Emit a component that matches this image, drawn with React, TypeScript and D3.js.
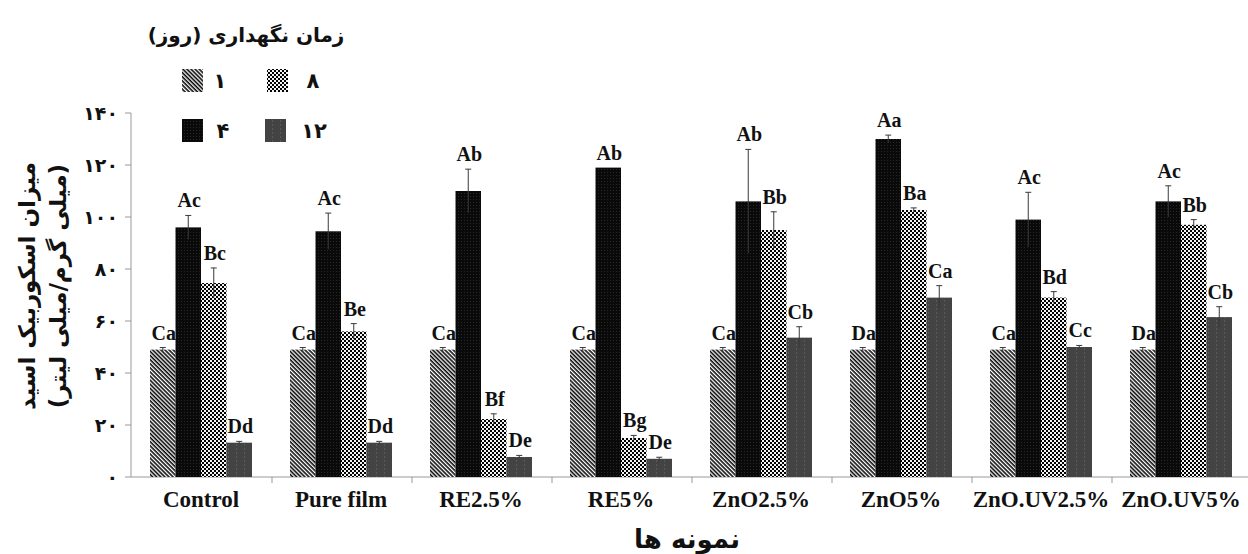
import * as React from 'react';
import * as d3 from 'd3';

const CATEGORIES = ['Control', 'Pure film', 'RE2.5%', 'RE5%', 'ZnO2.5%', 'ZnO5%', 'ZnO.UV2.5%', 'ZnO.UV5%'];
const SERIES = ['1', '4', '8', '12'];
const SERIES_LABELS = ['۱', '۴', '۸', '۱۲'];

const DAY1 = [49, 49, 49, 49, 49, 49, 49, 49];
const DAY4 = [96, 94.5, 110, 119, 106, 130, 99, 106];
const DAY8 = [74.6, 56, 22.3, 15, 95, 102.7, 69, 97];
const DAY12 = [13.2, 13.2, 7.7, 7, 53.6, 69, 50, 61.5];

const ERR1 = [0.8, 0.8, 0.8, 0.8, 0.8, 0.8, 0.8, 0.8];
const ERR4 = [4.6, 7, 8.4, 0, 20, 1.5, 10.5, 6];
const ERR8 = [5.8, 3, 2, 1, 7, 0.8, 2.3, 2];
const ERR12 = [0.5, 0.5, 0.6, 0.6, 4.2, 4.6, 0.6, 4];

const LETTERS1 = ['Ca', 'Ca', 'Ca', 'Ca', 'Ca', 'Da', 'Ca', 'Da'];
const LETTERS4 = ['Ac', 'Ac', 'Ab', 'Ab', 'Ab', 'Aa', 'Ac', 'Ac'];
const LETTERS8 = ['Bc', 'Be', 'Bf', 'Bg', 'Bb', 'Ba', 'Bd', 'Bb'];
const LETTERS12 = ['Dd', 'Dd', 'De', 'De', 'Cb', 'Ca', 'Cc', 'Cb'];

const Y_TICKS = [0, 20, 40, 60, 80, 100, 120, 140];
const Y_TICK_LABELS = ['۰', '۲۰', '۴۰', '۶۰', '۸۰', '۱۰۰', '۱۲۰', '۱۴۰'];

const LEGEND_TITLE = 'زمان نگهداری (روز)';
const Y_TITLE_1 = 'میزان اسکوربیک اسید';
const Y_TITLE_2 = '(میلی گرم/میلی لیتر)';
const X_TITLE = 'نمونه ها';

const VALUES = [DAY1, DAY4, DAY8, DAY12];
const ERRORS = [ERR1, ERR4, ERR8, ERR12];
const LETTERS = [LETTERS1, LETTERS4, LETTERS8, LETTERS12];
const FILLS = ['url(#p1)', 'url(#p4)', 'url(#p8)', 'url(#p12)'];

const FA = '"DejaVu Sans", sans-serif';
const SERIF = '"Liberation Serif", "Times New Roman", serif';

export default function App() {
  const W = 1248;
  const H = 554;
  const LEFT = 132;
  const GROUP = 140;

  const x0 = d3
    .scaleBand<string>()
    .domain(CATEGORIES)
    .range([LEFT, LEFT + GROUP * CATEGORIES.length]);
  const x1 = d3.scaleBand<string>().domain(SERIES).range([18, 120]);
  const y = d3.scaleLinear().domain([0, 140]).range([477, 113]);

  const rows = CATEGORIES.map((c, i) => ({
    cat: c,
    bars: SERIES.map((s, k) => ({
      s,
      k,
      v: VALUES[k][i],
      e: ERRORS[k][i],
      lab: LETTERS[k][i]
    }))
  }));

  const legend = [
    { k: 0, x: 182, y: 69, lx: 220 },
    { k: 2, x: 267, y: 69, lx: 313 },
    { k: 1, x: 182, y: 119, lx: 223 },
    { k: 3, x: 265, y: 119, lx: 314 }
  ];

  return (
    <svg
      width={W}
      height={H}
      style={{ position: 'absolute', left: 0, top: 0, background: '#fff' }}
    >
      <defs>
        <pattern id="p1" patternUnits="userSpaceOnUse" width={6} height={2.9} patternTransform="rotate(45)">
          <rect width={6} height={2.9} fill="#fff" />
          <rect width={6} height={1.6} fill="#0a0a0a" />
        </pattern>
        <pattern id="p4" patternUnits="userSpaceOnUse" width={3} height={3}>
          <rect width={3} height={3} fill="#0a0a0a" />
          <rect x={1} y={1} width={1} height={1} fill="#262626" />
        </pattern>
        <pattern id="p8" patternUnits="userSpaceOnUse" width={4} height={4}>
          <rect width={4} height={4} fill="#f4f4f4" />
          <rect width={2} height={2} fill="#000" />
          <rect x={2} y={2} width={2} height={2} fill="#000" />
        </pattern>
        <pattern id="p12" patternUnits="userSpaceOnUse" width={8} height={4}>
          <rect width={8} height={4} fill="#434343" />
          <rect x={0} width={1} height={2} fill="#5a5a5a" />
        </pattern>
      </defs>

      {/* legend */}
      <text
        x={246}
        y={42}
        textAnchor="middle"
        direction="rtl"
        fontFamily={FA}
        fontWeight="bold"
        fontSize={20}
        fill="#111"
      >
        {LEGEND_TITLE}
      </text>
      {legend.map((l) => (
        <g key={l.k}>
          <rect x={l.x} y={l.y} width={21} height={23} fill={FILLS[l.k]} />
          <text
            x={l.lx}
            y={l.y + 19}
            textAnchor="middle"
            fontFamily={FA}
            fontWeight="bold"
            fontSize={21}
            fill="#111"
          >
            {SERIES_LABELS[l.k]}
          </text>
        </g>
      ))}

      {/* y axis */}
      <line x1={LEFT - 1} x2={LEFT - 1} y1={y(140)} y2={y(0)} stroke="#999" />
      {Y_TICKS.map((t, i) => (
        <g key={t}>
          <line x1={LEFT - 7} x2={LEFT - 1} y1={y(t)} y2={y(t)} stroke="#999" />
          <text
            x={118}
            y={y(t) + 7}
            textAnchor="end"
            fontFamily={FA}
            fontWeight="bold"
            fontSize={19}
            fill="#111"
          >
            {Y_TICK_LABELS[i]}
          </text>
        </g>
      ))}
      <text
        transform="translate(35,286) rotate(-90)"
        textAnchor="middle"
        direction="rtl"
        fontFamily={FA}
        fontWeight="bold"
        fontSize={23}
        fill="#111"
      >
        {Y_TITLE_1}
      </text>
      <text
        transform="translate(66,286) rotate(-90)"
        textAnchor="middle"
        direction="rtl"
        fontFamily={FA}
        fontWeight="bold"
        fontSize={23}
        fill="#111"
      >
        {Y_TITLE_2}
      </text>

      {/* x axis */}
      <line x1={LEFT - 1} x2={x0.range()[1]} y1={y(0)} y2={y(0)} stroke="#999" />
      {CATEGORIES.map((c) => (
        <line
          key={c}
          x1={x0(c)! + GROUP}
          x2={x0(c)! + GROUP}
          y1={y(0)}
          y2={y(0) + 6}
          stroke="#999"
        />
      ))}
      {CATEGORIES.map((c) => (
        <text
          key={c}
          x={x0(c)! + 69}
          y={507}
          textAnchor="middle"
          fontFamily={SERIF}
          fontWeight="bold"
          fontSize={23}
          fill="#111"
        >
          {c}
        </text>
      ))}
      <text
        x={687}
        y={548}
        textAnchor="middle"
        direction="rtl"
        fontFamily={FA}
        fontWeight="bold"
        fontSize={26}
        letterSpacing={2}
        fill="#111"
      >
        {X_TITLE}
      </text>

      {/* bars */}
      {rows.map((r) => (
        <g key={r.cat} transform={`translate(${x0(r.cat)},0)`}>
          {r.bars.map((b) => {
            const bx = x1(b.s)!;
            const bw = x1.bandwidth();
            const cx = bx + bw / 2;
            return (
              <g key={b.s}>
                <rect x={bx} y={y(b.v)} width={bw} height={y(0) - y(b.v)} fill={FILLS[b.k]} />
                {b.e > 0 && (
                  <g stroke="#3a3a3a" strokeWidth={1}>
                    <line x1={cx} x2={cx} y1={y(b.v + b.e)} y2={y(b.v - b.e)} />
                    <line x1={cx - 3} x2={cx + 3} y1={y(b.v + b.e)} y2={y(b.v + b.e)} />
                  </g>
                )}
                <text
                  x={cx + 1}
                  y={y(b.v + b.e) - 8}
                  textAnchor="middle"
                  fontFamily={SERIF}
                  fontWeight="bold"
                  fontSize={20}
                  fill="#111"
                >
                  {b.lab}
                </text>
              </g>
            );
          })}
        </g>
      ))}
    </svg>
  );
}
